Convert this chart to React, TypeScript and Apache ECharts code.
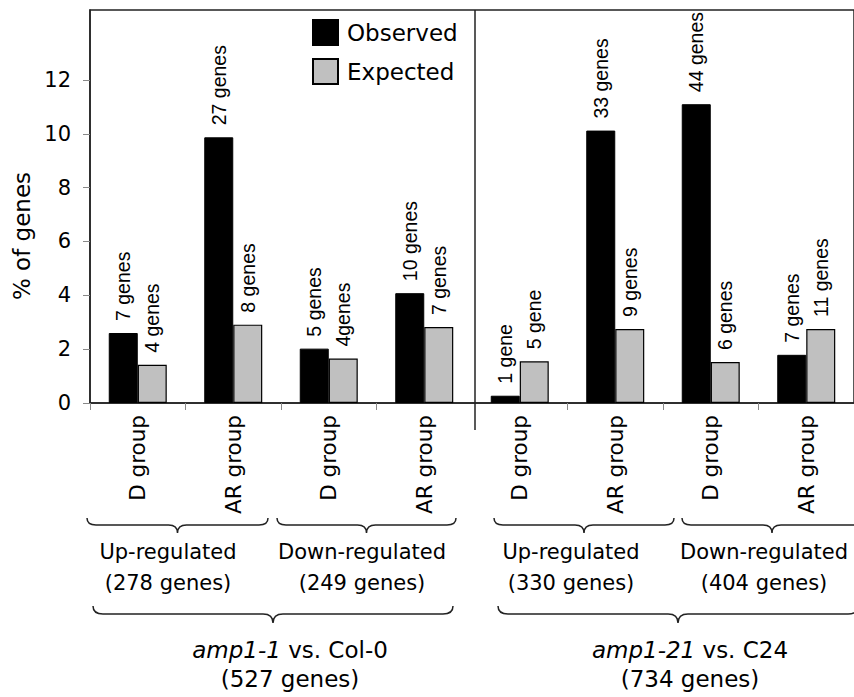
import React, { useEffect, useRef } from 'react';
import * as echarts from 'echarts';

// ---------- data ----------
const categories = ['D group', 'AR group', 'D group', 'AR group', 'D group', 'AR group', 'D group', 'AR group'];
const observed = [2.6, 9.87, 2.02, 4.08, 0.27, 10.12, 11.1, 1.79];
const expected = [1.42, 2.91, 1.65, 2.82, 1.55, 2.75, 1.52, 2.75];
const observedLabels = ['7 genes', '27 genes', '5 genes', '10 genes', '1 gene', '33 genes', '44 genes', '7 genes'];
const expectedLabels = ['4 genes', '8 genes', '4genes', '7 genes', '5 gene', '9 genes', '6 genes', '11 genes'];
const yTicks = [0, 2, 4, 6, 8, 10, 12];
const yMax = 14.6;
const regulationTitles = ['Up-regulated', 'Down-regulated', 'Up-regulated', 'Down-regulated'];
const regulationCounts = ['(278 genes)', '(249 genes)', '(330 genes)', '(404 genes)'];
const comparisonGenotypes = ['amp1-1', 'amp1-21'];
const comparisonControls = [' vs. Col-0', ' vs. C24'];
const comparisonCounts = ['(527 genes)', '(734 genes)'];

// ---------- layout (annotation positions, px) ----------
const regBraces = [[87, 268], [277, 456], [494, 674], [682, 862]];
const regTextX = [168, 362, 571, 764];
const cmpBraces = [[93, 453], [498, 858]];
const cmpTextX = [290, 690];

const AX = '#222';
const SANS = 'DejaVu Sans';

const Brace = echarts.graphic.extendShape({
  shape: { x1: 0, x2: 0, y0: 0, y1: 0, y2: 0, r: 10 },
  buildPath(ctx: any, s: any) {
    const xm = (s.x1 + s.x2) / 2;
    ctx.moveTo(s.x1, s.y0);
    ctx.quadraticCurveTo(s.x1, s.y1, s.x1 + s.r, s.y1);
    ctx.lineTo(xm - s.r, s.y1);
    ctx.quadraticCurveTo(xm, s.y1, xm, s.y2);
    ctx.quadraticCurveTo(xm, s.y1, xm + s.r, s.y1);
    ctx.lineTo(s.x2 - s.r, s.y1);
    ctx.quadraticCurveTo(s.x2, s.y1, s.x2, s.y0);
  },
});
echarts.graphic.registerShape('brace', Brace);

export default function App() {
  const ref = useRef<HTMLDivElement>(null);
  useEffect(() => {
    if (!ref.current) return;
    const chart = echarts.init(ref.current, null, { renderer: 'svg' });
    const labelBase = {
      show: true,
      position: 'top',
      rotate: 90,
      align: 'left',
      verticalAlign: 'middle',
      distance: 12,
      fontFamily: 'Liberation Sans',
      fontSize: 19.5,
      color: '#000',
    };
    chart.setOption({
      animation: false,
      backgroundColor: '#fff',
      grid: {
        left: 90,
        top: 10,
        width: 773,
        height: 393,
        show: true,
        borderColor: AX,
        borderWidth: 1.5,
        backgroundColor: 'transparent',
      },
      legend: {
        orient: 'vertical',
        left: 307,
        top: 14,
        itemWidth: 25,
        itemHeight: 25,
        itemGap: 12,
        icon: 'rect',
        textStyle: { fontFamily: SANS, fontSize: 23, color: '#000', padding: [0, 0, 0, 4] },
        data: ['Observed', 'Expected'],
      },
      xAxis: {
        type: 'category',
        data: categories,
        axisLine: { lineStyle: { color: AX, width: 1.5 } },
        axisTick: {
          show: true,
          length: 7,
          lineStyle: { color: '#888' },
          interval: (i: number) => i !== 4,
        },
        axisLabel: {
          interval: 0,
          rotate: 90,
          margin: 12,
          fontFamily: SANS,
          fontSize: 21.5,
          color: '#000',
        },
      },
      yAxis: {
        type: 'value',
        min: 0,
        max: yMax,
        interval: 2,
        splitLine: { show: false },
        axisLine: { show: true, lineStyle: { color: AX, width: 1.5 } },
        axisTick: { show: true, length: 7, lineStyle: { color: '#888' }, customValues: yTicks },
        axisLabel: {
          margin: 19,
          fontFamily: SANS,
          fontSize: 21,
          color: '#000',
          customValues: yTicks,
        },
      },
      series: [
        {
          name: 'Observed',
          type: 'bar',
          data: observed,
          barWidth: 29,
          barGap: '0%',
          itemStyle: { color: '#000', borderColor: '#000', borderWidth: 1 },
          label: { ...labelBase, formatter: (p: any) => observedLabels[p.dataIndex] },
        },
        {
          name: 'Expected',
          type: 'bar',
          data: expected,
          barWidth: 29,
          barGap: '0%',
          itemStyle: { color: '#c0c0c0', borderColor: '#000', borderWidth: 1.2 },
          label: { ...labelBase, formatter: (p: any) => expectedLabels[p.dataIndex] },
        },
      ],
    });

    const c3 = chart.convertToPixel({ xAxisIndex: 0 }, 3) as number;
    const c4 = chart.convertToPixel({ xAxisIndex: 0 }, 4) as number;
    const dividerX = (c3 + c4) / 2 + 3;
    const yTop = chart.convertToPixel({ yAxisIndex: 0 }, yMax) as number;
    const yZero = chart.convertToPixel({ yAxisIndex: 0 }, 0) as number;

    const graphics: any[] = [];
    graphics.push({
      type: 'line',
      z: 10,
      shape: { x1: dividerX, y1: yTop, x2: dividerX, y2: yZero + 27 },
      style: { stroke: AX, lineWidth: 1.5 },
    });
    graphics.push({
      type: 'text',
      x: 22,
      y: 236,
      rotation: Math.PI / 2,
      style: {
        text: '% of genes',
        fontFamily: SANS,
        fontSize: 23,
        fill: '#000',
        align: 'center',
        verticalAlign: 'middle',
      },
    });
    regBraces.forEach(([x1, x2]) => {
      graphics.push({
        type: 'brace',
        shape: { x1, x2, y0: 518, y1: 525, y2: 533, r: 9 },
        style: { stroke: '#222', fill: null, lineWidth: 1.5 },
      });
    });
    regulationTitles.forEach((t, i) => {
      graphics.push({
        type: 'text',
        style: {
          text: t + '\n' + regulationCounts[i],
          x: regTextX[i],
          y: 567,
          fontFamily: SANS,
          fontSize: 21,
          lineHeight: 31,
          fill: '#000',
          align: 'center',
          verticalAlign: 'middle',
        },
      });
    });
    cmpBraces.forEach(([x1, x2]) => {
      graphics.push({
        type: 'brace',
        shape: { x1, x2, y0: 606, y1: 614, y2: 623, r: 10 },
        style: { stroke: '#222', fill: null, lineWidth: 1.5 },
      });
    });
    comparisonGenotypes.forEach((g, i) => {
      graphics.push({
        type: 'text',
        style: {
          text: '{i|' + g + '}' + comparisonControls[i],
          x: cmpTextX[i],
          y: 650,
          fontFamily: SANS,
          fontSize: 23,
          fill: '#000',
          align: 'center',
          verticalAlign: 'middle',
          rich: { i: { fontStyle: 'italic', fontFamily: SANS, fontSize: 23, fill: '#000' } },
        },
      });
      graphics.push({
        type: 'text',
        style: {
          text: comparisonCounts[i],
          x: cmpTextX[i],
          y: 679,
          fontFamily: SANS,
          fontSize: 23,
          fill: '#000',
          align: 'center',
          verticalAlign: 'middle',
        },
      });
    });
    chart.setOption({ graphic: graphics });

    return () => chart.dispose();
  }, []);
  return <div ref={ref} style={{ width: 854, height: 697, position: 'absolute', left: 0, top: 0 }} />;
}
